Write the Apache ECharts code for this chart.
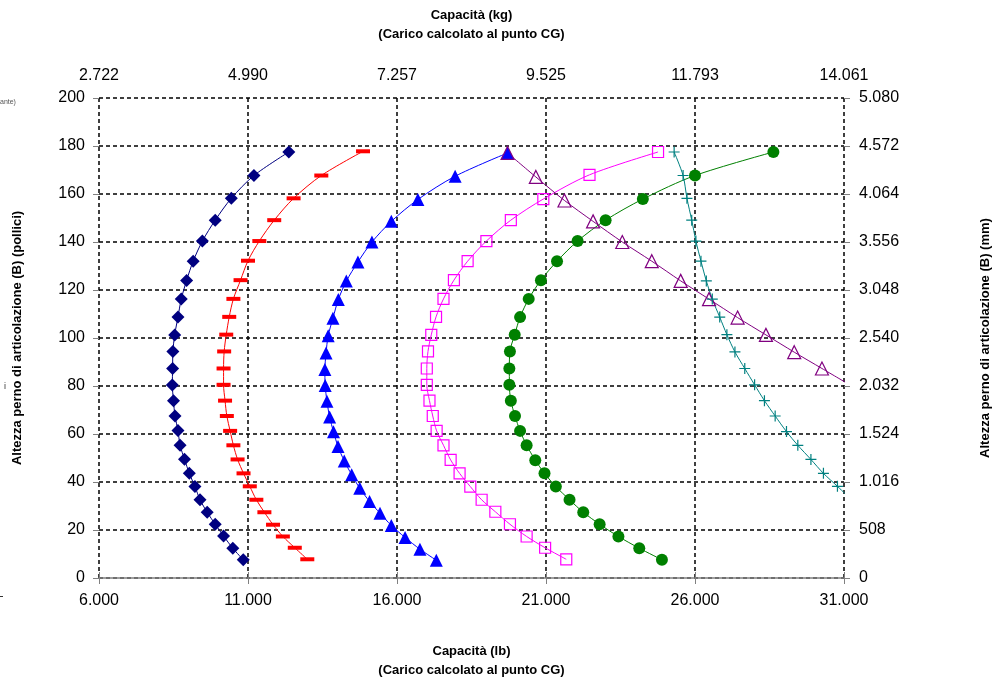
<!DOCTYPE html>
<html>
<head>
<meta charset="utf-8">
<script src="https://cdn.jsdelivr.net/npm/echarts@6/dist/echarts.min.js"></script>
<style>
html,body{margin:0;padding:0;background:#fff;}
#chart{width:1003px;height:685px;}
</style>
</head>
<body>
<div id="chart"></div>
<script>
// ---- Tick labels ----
const lbTicks = ['6.000','11.000','16.000','21.000','26.000','31.000'];
const kgTicks = ['2.722','4.990','7.257','9.525','11.793','14.061'];
const mmTicks = ['0','508','1.016','1.524','2.032','2.540','3.048','3.556','4.064','4.572','5.080'];

// ---- Series data (capacity lb, pivot height in) ----
const navyX = [12370,11200,10440,9900,9470,9160,8940,8760,8650,8540,8480,8470,8460,8500,8550,8650,8720,8870,9030,9220,9390,9630,9900,10180,10490,10840];
const navyY = [177.5,167.7,158.2,149.1,140.4,132.0,124.0,116.2,108.7,101.3,94.4,87.3,80.4,73.9,67.5,61.5,55.3,49.5,43.6,38.1,32.6,27.4,22.4,17.5,12.4,7.6];

const redX = [14860,13460,12530,11880,11380,11000,10750,10510,10370,10270,10200,10180,10180,10230,10290,10400,10510,10650,10850,11060,11280,11550,11840,12170,12570,12990];
const redY = [177.8,167.7,158.2,149.1,140.4,132.2,124.1,116.3,108.8,101.4,94.4,87.3,80.5,73.9,67.5,61.3,55.3,49.4,43.6,38.2,32.6,27.4,22.2,17.3,12.6,7.8];

const blueX = [19710,17950,16700,15810,15160,14690,14300,14030,13850,13690,13620,13580,13590,13650,13740,13870,14020,14230,14480,14750,15080,15430,15810,16270,16770,17320];
const blueY = [177.1,167.4,157.7,148.6,140.0,131.7,123.7,116.0,108.2,100.9,93.8,86.9,80.2,73.6,67.1,60.9,54.8,48.8,43.0,37.4,31.9,27.0,21.9,16.9,12.0,7.4];

const magX = [24760,22460,20910,19820,19000,18370,17910,17560,17310,17150,17040,17000,17000,17090,17200,17330,17560,17800,18100,18460,18840,19300,19790,20350,20970,21680];
const magY = [177.5,168.0,157.9,149.1,140.4,132.0,124.1,116.3,108.8,101.3,94.4,87.3,80.5,73.9,67.5,61.3,55.3,49.2,43.6,38.1,32.6,27.6,22.4,17.3,12.6,7.8];

const greenX = [28630,26000,24250,23000,22060,21370,20830,20420,20130,19950,19790,19770,19770,19820,19960,20130,20350,20640,20950,21330,21790,22250,22800,23430,24130,24890];
const greenY = [177.5,167.7,157.9,149.1,140.4,132.0,124.1,116.3,108.7,101.4,94.4,87.3,80.5,73.9,67.5,61.3,55.3,49.1,43.6,38.1,32.6,27.4,22.4,17.3,12.4,7.6];

const purpleX = [19710,20660,21620,22580,23560,24550,25520,26470,27430,28380,29330,30260,31190];
const purpleY = [177.1,167.1,157.3,148.6,140.0,132.0,123.8,116.2,108.5,101.3,94.1,87.3,80.5];

const tealX = [25300,25600,25730,25890,26030,26200,26380,26580,26830,27070,27340,27670,28000,28330,28690,29070,29450,29890,30310,30780,31250];
const tealY = [177.5,167.7,158.2,149.1,140.4,132.0,123.8,116.2,108.7,101.4,94.2,87.3,80.5,73.9,67.5,61.0,55.3,49.4,43.6,38.2,32.6];

function pairs(xs, ys){ return xs.map((x,i)=>[x, ys[i]]); }

const FONT = "'Liberation Sans', Arial, sans-serif";
const tickIdx = v => Math.round((v - 6000) / 5000);

function mkSeries(name, xs, ys, color, symbol, size, open){
  return {
    name: name, type: 'line', xAxisIndex: 0, yAxisIndex: 0,
    data: pairs(xs, ys), smooth: 0.3, clip: true,
    symbol: symbol, symbolSize: size,
    lineStyle: {color: color, width: 1},
    itemStyle: open ? {color: 'rgba(0,0,0,0)', borderColor: color, borderWidth: 1.2}
                    : {color: color, borderWidth: 0},
    emphasis: {disabled: true}
  };
}

const chart = echarts.init(document.getElementById('chart'), null, {renderer: 'canvas'});
const gridLine = {show: true, lineStyle: {color: '#000', type: [4, 3], width: 1.5}};
const tick = {show: true, length: 6, lineStyle: {color: '#808080', width: 1}};
const nameStyle = {fontFamily: FONT, fontSize: 13, fontWeight: 'bold', color: '#000', lineHeight: 19};
const labelStyle = {fontFamily: FONT, fontSize: 16, color: '#000'};

chart.setOption({
  animation: false,
  backgroundColor: '#fff',
  grid: {left: 96, right: 142, top: 98, bottom: 101, containLabel: false},
  xAxis: [
    {type: 'value', position: 'bottom', min: 6000, max: 31000, interval: 5000,
     name: 'Capacità (lb)\n(Carico calcolato al punto CG)', nameLocation: 'middle', nameGap: 64,
     nameTextStyle: nameStyle,
     axisLine: {show: true, lineStyle: {color: '#808080', width: 1.5}},
     axisTick: tick,
     axisLabel: Object.assign({margin: 15, formatter: v => lbTicks[tickIdx(v)]}, labelStyle),
     splitLine: gridLine},
    {type: 'value', position: 'top', min: 6000, max: 31000, interval: 5000,
     name: 'Capacità (kg)\n(Carico calcolato al punto CG)', nameLocation: 'middle', nameGap: 54,
     nameTextStyle: nameStyle,
     axisLine: {show: false},
     axisTick: tick,
     axisLabel: Object.assign({margin: 14, formatter: v => kgTicks[tickIdx(v)]}, labelStyle),
     splitLine: {show: false}}
  ],
  yAxis: [
    {type: 'value', position: 'left', min: 0, max: 200, interval: 20,
     name: 'Altezza perno di articolazione (B) (pollici)', nameLocation: 'middle', nameGap: 72, nameRotate: 90,
     nameTextStyle: nameStyle,
     axisLine: {show: false},
     axisTick: tick,
     axisLabel: Object.assign({margin: 14}, labelStyle),
     splitLine: gridLine},
    {type: 'value', position: 'right', min: 0, max: 200, interval: 20,
     name: 'Altezza perno di articolazione (B) (mm)', nameLocation: 'middle', nameGap: 132, nameRotate: 90,
     nameTextStyle: nameStyle,
     axisLine: {show: false},
     axisTick: tick,
     axisLabel: Object.assign({margin: 15, formatter: v => mmTicks[Math.round(v / 20)]}, labelStyle),
     splitLine: {show: false}}
  ],
  graphic: [
    {type: 'text', left: 0, top: 99, style: {text: 'ante)', font: '7px ' + FONT, fill: '#555'}},
    {type: 'text', left: 4, top: 382, style: {text: 'i', font: '9px ' + FONT, fill: '#333'}},
    {type: 'rect', shape: {x: 0, y: 596, width: 3, height: 1}, style: {fill: '#333'}}
  ],
  series: [
    mkSeries('navy', navyX, navyY, '#000080', 'diamond', 13, false),
    mkSeries('red', redX, redY, '#FF0000', 'rect', [14, 4], false),
    mkSeries('blue', blueX, blueY, '#0000FF', 'triangle', 13, false),
    mkSeries('magenta', magX, magY, '#FF00FF', 'rect', 11, true),
    mkSeries('green', greenX, greenY, '#008000', 'circle', 12, false),
    mkSeries('purple', purpleX, purpleY, '#800080', 'triangle', 13, true),
    mkSeries('teal', tealX, tealY, '#008080', 'path://M0,5H10M5,0V10', 11, true)
  ]
});
</script>
</body>
</html>
